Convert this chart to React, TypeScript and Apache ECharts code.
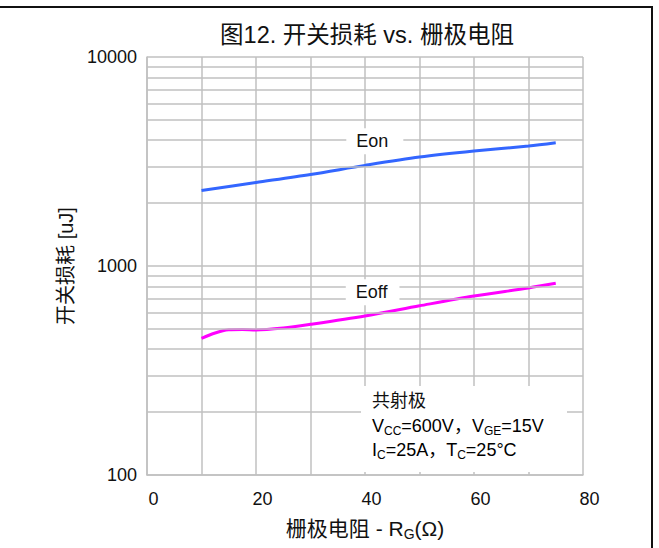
import React, { useEffect, useRef } from "react";
import * as echarts from "echarts";

// Gate resistance R_G (Ω) and switching energies (uJ)
const rgEon = [10, 20, 30, 40, 50, 60, 70, 75];
const eon = [2300, 2510, 2740, 3030, 3320, 3550, 3750, 3890];
const rgEoff = [10, 12.5, 15, 17.5, 20, 25, 30, 40, 50, 60, 70, 75];
const eoff = [450, 478, 495, 497, 494, 505, 526, 577, 645, 718, 785, 826];

// Axis ranges and tick labels
const xMin = 0;
const xMax = 80;
const xStep = 10;
const xLabelEvery = 20;
const yMin = 100;
const yMax = 10000;
const yMinorLines = [200, 300, 400, 500, 600, 700, 800, 900, 2000, 3000, 4000, 5000, 6000, 7000, 8000, 9000];

// Curve name tags, anchored in data coordinates
const eonTagAt: [number, number] = [41.8, 3950];
const eoffTagAt: [number, number] = [41.4, 748];

const titleText = "图12. 开关损耗 vs. 栅极电阻";
const yName = "开关损耗 [uJ]";
const condTitle = "共射极";

const SANS = '"Liberation Sans", Arial, "Noto Sans CJK SC", sans-serif';
const GRID = "#c0c0c0";
const INK = "#111111";

export default function App() {
  const ref = useRef<HTMLDivElement>(null);

  useEffect(() => {
    if (!ref.current) return;
    const chart = echarts.init(ref.current, undefined, { renderer: "svg" });

    const tag = (text: string, pad: number[]) => ({
      show: true,
      position: "inside",
      formatter: text,
      color: INK,
      fontSize: 18,
      fontFamily: SANS,
      backgroundColor: "#ffffff",
      padding: pad,
    });

    const subRich = {
      n: { fontSize: 18, fontFamily: SANS, color: INK },
      s: { fontSize: 12, fontFamily: SANS, color: INK, padding: [10, 0, 0, 0] },
    };

    chart.setOption({
      animation: false,
      backgroundColor: "#ffffff",
      grid: { left: 147, top: 57, right: 76, bottom: 73, containLabel: false },
      xAxis: {
        type: "value",
        min: xMin,
        max: xMax,
        interval: xStep,
        name: "{n|栅极电阻 - R}{s|G}{n|(Ω)}",
        nameLocation: "middle",
        nameGap: 42,
        nameTextStyle: {
          rich: {
            n: { fontSize: 21, fontFamily: SANS, color: INK },
            s: { fontSize: 14, fontFamily: SANS, color: INK, padding: [10, 0, 0, 0] },
          },
        },
        axisLine: { show: true, lineStyle: { color: GRID, width: 1.5 } },
        axisTick: { show: false },
        axisLabel: {
          color: INK,
          fontSize: 18,
          fontFamily: SANS,
          margin: 15,
          padding: [0, 0, 0, 13],
          formatter: (v: number) => (v % xLabelEvery === 0 ? String(v) : ""),
        },
        splitLine: { show: true, lineStyle: { color: GRID, width: 1.5 } },
      },
      yAxis: {
        type: "log",
        logBase: 10,
        min: yMin,
        max: yMax,
        name: yName,
        nameLocation: "middle",
        nameGap: 71,
        nameTextStyle: { fontSize: 20, fontFamily: SANS, color: INK },
        axisLine: { show: true, lineStyle: { color: GRID, width: 1.5 } },
        axisTick: { show: false },
        axisLabel: {
          color: INK,
          fontSize: 18,
          fontFamily: SANS,
          margin: 10,
          formatter: (v: number) => String(Math.round(v)),
        },
        splitLine: { show: true, lineStyle: { color: GRID, width: 1.5 } },
      },
      series: [
        {
          name: "minor",
          type: "line",
          data: [],
          z: 1,
          silent: true,
          markLine: {
            silent: true,
            symbol: ["none", "none"],
            label: { show: false },
            emphasis: { disabled: true },
            lineStyle: { color: GRID, width: 1.5, type: "solid" },
            data: yMinorLines.map((v) => ({ yAxis: v })),
          },
        },
        {
          name: "Eon",
          type: "line",
          z: 3,
          smooth: 0.3,
          showSymbol: false,
          lineStyle: { color: "#3366ff", width: 3 },
          data: rgEon.map((x, i) => [x, eon[i]]),
          markPoint: {
            symbol: "rect",
            symbolSize: 1,
            itemStyle: { color: "rgba(0,0,0,0)" },
            label: tag("Eon", [4, 15, 4, 10]),
            data: [{ coord: eonTagAt }],
          },
        },
        {
          name: "Eoff",
          type: "line",
          z: 3,
          smooth: 0.3,
          showSymbol: false,
          lineStyle: { color: "#ff00ff", width: 3 },
          data: rgEoff.map((x, i) => [x, eoff[i]]),
          markPoint: {
            symbol: "rect",
            symbolSize: 1,
            itemStyle: { color: "rgba(0,0,0,0)" },
            label: tag("Eoff", [4, 12, 4, 10]),
            data: [{ coord: eoffTagAt }],
          },
        },
      ],
      graphic: [
        // page frame: top and right rules
        { type: "line", z: 200, shape: { x1: 0, y1: 7, x2: 653, y2: 7 }, style: { stroke: INK, lineWidth: 2 } },
        { type: "line", z: 200, shape: { x1: 652, y1: 6, x2: 652, y2: 548 }, style: { stroke: INK, lineWidth: 2 } },
        {
          type: "text",
          z: 200,
          x: 367,
          y: 35,
          style: { text: titleText, align: "center", verticalAlign: "middle", fontSize: 23.5, fontFamily: SANS, fill: INK },
        },
        // test-condition box
        { type: "rect", z: 150, shape: { x: 361, y: 386, width: 206, height: 86 }, style: { fill: "#ffffff" } },
        {
          type: "text",
          z: 160,
          x: 372,
          y: 401,
          style: { text: condTitle, verticalAlign: "middle", fontSize: 18, fontFamily: SANS, fill: INK },
        },
        {
          type: "text",
          z: 160,
          x: 372,
          y: 426,
          style: { text: "{n|V}{s|CC}{n|=600V，V}{s|GE}{n|=15V}", verticalAlign: "middle", rich: subRich },
        },
        {
          type: "text",
          z: 160,
          x: 372,
          y: 450,
          style: { text: "{n|I}{s|C}{n|=25A，T}{s|C}{n|=25°C}", verticalAlign: "middle", rich: subRich },
        },
      ],
    });

    return () => chart.dispose();
  }, []);

  return (
    <div
      ref={ref}
      style={{ position: "fixed", left: 0, top: 0, width: 659, height: 548, background: "#fff" }}
    />
  );
}
